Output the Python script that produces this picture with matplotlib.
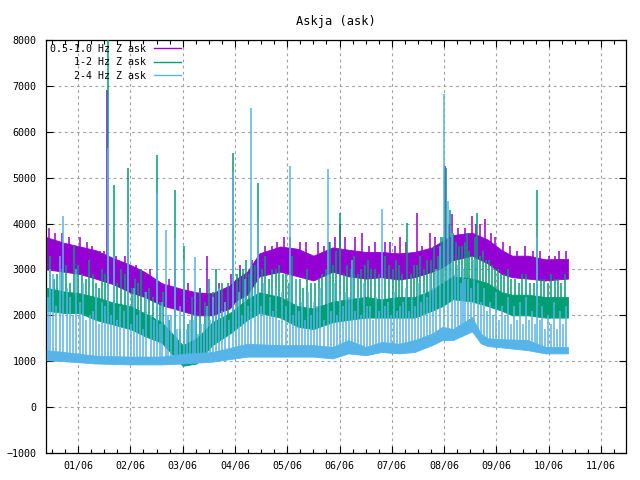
import numpy as np
import matplotlib
matplotlib.use('Agg')
import matplotlib.pyplot as plt
from matplotlib.ticker import MultipleLocator

plt.rcParams['font.family'] = 'DejaVu Sans Mono'
plt.rcParams['font.size'] = 7.2

# --- colours (gnuplot defaults) ---
PURPLE, GREEN, BLUE = '#9400d3', '#009e73', '#56b4e9'

# x axis: days, one tick label every 30 days
TICK_DAYS = [0, 30, 60, 90, 120, 150, 180, 210, 240, 270, 300]
TICK_LABELS = ['01/06', '02/06', '03/06', '04/06', '05/06', '06/06',
               '07/06', '08/06', '09/06', '10/06', '11/06']

# 0.5-1.0 Hz: noise envelope, big spikes, small bursts
P_DAY = [-18, -8, 1, 10, 20, 30, 38, 48, 59, 68, 77, 87, 91, 97, 104, 116, 126,
         135, 146, 155, 165, 174, 184, 193, 203, 209, 215, 226, 235, 243, 249, 258, 268, 281]
P_LO = [3000, 2950, 2900, 2800, 2680, 2500, 2400, 2220, 2100, 2000, 2000, 2150, 2330, 2450,
        2850, 2950, 2850, 2760, 2950, 2850, 2800, 2830, 2780, 2830, 2950, 3050, 3200, 3300,
        3130, 2900, 2830, 2800, 2760, 2800]
P_HI = [3700, 3580, 3500, 3420, 3250, 3100, 2950, 2700, 2580, 2500, 2480, 2650, 2800, 2950,
        3350, 3500, 3450, 3300, 3480, 3430, 3380, 3380, 3350, 3380, 3480, 3620, 3750, 3800,
        3650, 3420, 3300, 3300, 3220, 3230]
P_SPK_DAY = [-16.6, -9.2, 1.1, 12.6, 16.6, 27.0, 41.3, 55.6, 74.0, 92.9, 107.3, 121.6, 127.3,
             137.7, 147.4, 150.3, 158.9, 162.9, 170.4, 179.0, 184.7, 194.4, 201.9, 210.5,
             214.5, 222.0, 226.0, 230.6, 233.5, 239.2, 247.8, 256.4, 265.0, 273.6, 279.9]
P_SPK_VAL = [3900, 3800, 3700, 3400, 6920, 3300, 3000, 3000, 3300, 3100, 3500, 3700, 3600,
             3600, 3700, 3990, 3700, 3800, 3600, 3600, 3700, 4240, 3800, 5250,
             4200, 3900, 4170, 4000, 4100, 3700, 3500, 3500, 3400, 3300, 3400]
P_BURST_DAY = [-13.0, -5.0, 5.0, 8.0, 15.0, 22.0, 33.0, 45.0, 52.0, 63.0, 70.0, 81.0, 88.0,
               100.0, 111.0, 114.0, 118.0, 131.0, 141.0, 144.0, 153.0, 167.0, 176.0, 182.0,
               188.0, 197.0, 205.0, 212.5, 218.0, 228.0, 237.0, 244.0, 252.0, 261.0, 270.0, 276.0]
P_BURST_VAL = [3800, 3700, 3600, 3500, 3400, 3300, 3100, 2900, 2800, 2700, 2600, 2700, 2900,
               3200, 3500, 3600, 3700, 3600, 3500, 3600, 3700, 3500, 3600, 3500,
               3600, 3500, 3700, 4000, 3900, 4000, 3800, 3600, 3400, 3400, 3300, 3400]

# 1-2 Hz
G_DAY = [-18, -8, 1, 10, 20, 30, 38, 48, 54, 60, 68, 77, 87, 97, 104, 116, 126, 135, 146,
         155, 165, 174, 184, 193, 203, 209, 215, 226, 235, 243, 249, 258, 268, 281]
G_LO = [2100, 2050, 2050, 1900, 1800, 1700, 1550, 1400, 1150, 900, 950, 1350, 1600, 1900,
        2050, 1950, 1750, 1700, 1850, 1900, 1950, 1950, 1950, 1950, 2100, 2200, 2350, 2300,
        2200, 2100, 2000, 2000, 1950, 1950]
G_HI = [2600, 2520, 2480, 2400, 2280, 2200, 2050, 1850, 1600, 1350, 1500, 1850, 2050, 2350,
        2500, 2400, 2200, 2150, 2300, 2350, 2400, 2350, 2400, 2400, 2550, 2700, 2850, 2800,
        2700, 2500, 2450, 2450, 2400, 2400]
G_SPK_DAY = [-16.1, -12.0, -6.9, -2.3, 2.3, 6.3, 10.3, 13.8, 17.2, 20.6, 24.7, 28.7, 32.7,
             36.1, 40.7, 45.1, 48.8, 55.6, 60.8, 65.4, 70.0, 75.1, 79.2, 82.6, 88.9, 92.9,
             96.4, 99.8, 103.2, 107.3, 111.3, 115.3, 119.3, 122.8, 127.3, 131.4, 136.0,
             140.0, 144.5, 148.0, 150.3, 154.3, 158.3, 162.3, 166.3, 170.4, 176.1, 178.4,
             182.4, 185.8, 188.7, 192.7, 196.2, 200.2, 204.2, 208.2, 211.0, 213.4, 216.8,
             220.3, 223.1, 226.0, 228.9, 232.3, 235.8, 239.2, 242.6, 246.6, 250.7, 254.7,
             259.3, 263.3, 267.3, 271.3, 275.3, 279.3]
G_SPK_VAL = [3300, 2900, 3100, 3500, 2900, 3200, 2700, 3000, 8200, 4830, 3000, 5200, 2800,
             3000, 2600, 5500, 2500, 4740, 3520, 2400, 2600, 2800, 3000, 2700, 5545, 3000,
             3200, 3100, 4890, 3300, 3000, 3100, 2900, 3300, 2800, 3000, 2700,
             2900, 3600, 3400, 4240, 3100, 3300, 3000, 3200, 3000, 3300, 3100,
             3200, 2900, 4020, 3100, 3300, 3200, 3500, 3700, 5200, 4300, 3600,
             3500, 3800, 3300, 4240, 3400, 3200, 3000, 2900, 3000, 2800, 2900,
             2700, 4730, 2800, 2900, 2800, 2900]
G_BURST_DAY = [-14.0, -9.5, -4.6, 0.0, 4.3, 8.3, 12.0, 15.5,
               22.6, 26.7, 30.7, 34.4, 38.4, 42.9, 47.0,
               52.2, 58.2, 63.1, 67.7, 72.6, 77.2, 80.9,
               86.0, 91.0, 94.6, 98.1, 101.5, 105.3, 109.3, 113.3, 117.3, 121.0, 125.0,
               129.3, 133.7, 138.0, 142.2, 146.2, 152.3, 156.3, 160.3, 164.3, 168.3, 172.4,
               180.4, 184.1, 190.7, 194.5, 198.2, 202.2, 206.2, 209.6,
               215.1, 218.5, 221.7, 224.5, 227.5, 230.6, 234.0, 237.5, 240.9, 244.6,
               248.6, 252.7, 256.9, 261.3, 265.3, 269.3, 273.3, 277.3]
G_BURST_VAL = [2800, 3000, 2700, 3100, 2800, 2900, 2600, 2900,
               2700, 2900, 2600, 2700, 2500, 2400, 2300,
               1900, 1700, 1800, 2000, 2300, 2500, 2600,
               2700, 2900, 3000, 2900, 3100, 3000, 2800, 3000, 2900, 2700, 2800,
               2600, 2700, 2800, 3000, 3100, 2900, 3000, 2900, 3100, 3000, 2900,
               3000, 3100, 2900, 3100, 3000, 3200, 3300, 3700,
               3800, 3500, 3600, 3400, 3700, 3300, 3200, 3100, 3000, 2900,
               2800, 2700, 2900, 2700, 2800, 2700, 2800, 2700]

# 2-4 Hz
B_DAY = [-18, -8, 10, 30, 48, 60, 77, 97, 116, 135, 146, 155, 165, 174, 184, 193, 203, 209,
         215, 226, 231, 235, 243, 258, 268, 281]
B_LO = [1020, 1000, 950, 930, 930, 950, 990, 1100, 1100, 1100, 1060, 1170, 1130, 1200, 1170,
        1200, 1350, 1460, 1460, 1650, 1390, 1330, 1300, 1240, 1170, 1170]
B_HI = [1240, 1200, 1120, 1100, 1100, 1160, 1200, 1380, 1350, 1350, 1310, 1460, 1310, 1420,
        1380, 1460, 1600, 1750, 1700, 1960, 1600, 1500, 1480, 1460, 1310, 1310]
B_SPK_DAY = [-16.1, -14.3, -10.3, -8.6, -4.6, -1.1, 2.9, 6.9, 10.3, 13.8, 17.2, 20.6, 24.1,
             28.7, 32.1, 35.6, 39.0, 41.9, 45.1, 48.2, 50.3, 53.3, 55.6, 58.5, 60.8, 64.2,
             67.1, 70.6, 74.0, 77.4, 80.9, 84.3, 88.9, 92.3, 95.8, 99.1, 101.5, 103.2, 106.7,
             110.1, 113.6, 117.0, 121.6, 125.0, 128.5, 131.9, 135.4, 138.8, 143.4, 146.8,
             150.3, 153.7, 157.2, 160.6, 164.0, 167.5, 170.9, 174.4, 177.8, 181.3, 184.7,
             188.1, 191.6, 195.0, 198.5, 201.9, 205.3, 207.6, 209.9, 212.2, 214.5, 218.0,
             220.8, 223.7, 227.1, 229.4, 232.9, 236.3, 239.8, 243.2, 246.6, 250.1, 253.5,
             257.0, 260.4, 263.3, 266.1, 269.6, 273.0, 276.5, 279.9]
B_SPK_VAL = [3000, 2900, 3300, 4170, 2400, 3000, 2700, 2000, 2600, 2300, 5650, 3290, 2200,
             4030, 2600, 2100, 2500, 2000, 4660, 2300, 3870, 2000, 3680, 2200, 3200, 1900,
             3280, 1800, 2200, 2400, 2600, 2300, 5120, 2500, 2800, 6525, 2600, 4030, 2700,
             2400, 2600, 2500, 5260, 2800, 2300, 2500, 2300, 2600, 5190, 2700,
             2400, 2500, 3200, 2400, 2700, 2200, 2400, 4310, 2300, 2500, 2200,
             2600, 2400, 2700, 2500, 2900, 3000, 3500, 6820, 4500, 3800, 3100,
             3000, 2800, 3200, 2700, 2600, 2300, 2500, 2200, 2400, 2200, 2300,
             2400, 2100, 3700, 2200, 2000, 2300, 2100, 2200]
B_BURST_DAY = [-17.0, -12.5, -6.5, -3.0, 1.0, 4.8, 8.5, 12.0, 15.5, 19.0, 22.3, 26.5, 30.5,
               34.0, 37.2, 43.5, 46.8, 51.8, 57.0,
               62.5, 65.8, 69.0, 72.3, 75.8, 79.2, 82.6, 86.5, 90.5, 94.0, 97.4,
               105.0, 108.4, 112.0, 115.3, 119.3, 123.3, 126.7, 130.2, 133.6, 137.0, 141.0,
               145.0, 148.5, 152.0, 155.5, 159.0, 162.3, 165.8, 169.2, 172.6, 176.1, 179.5,
               183.0, 186.4, 189.8, 193.3, 196.7, 200.2, 203.6,
               216.2, 219.4, 222.2, 225.4, 231.1, 234.6, 238.0, 241.5, 244.9, 248.3, 251.8,
               255.2, 258.7, 262.0, 264.7, 267.8, 271.3, 274.7, 278.2]
B_BURST_VAL = [2400, 2200, 2600, 2000, 2300, 1900, 2100, 1800, 2200, 2000, 1900, 2100, 1800,
               2000, 1700, 1900, 1800, 2000, 1700,
               1700, 1900, 1600, 1800, 1900, 2000, 2100, 1900, 2200, 2000, 2200,
               2200, 2000, 2100, 1900, 2200, 2000, 2100, 1900, 2000, 2200, 1900,
               2100, 2000, 2200, 2400, 2100, 2000, 2200, 1900, 2100, 2200, 2000,
               2100, 2300, 2100, 2200, 2300, 2400, 2600,
               2900, 2700, 2800, 2600, 2300, 2100, 2000, 1900, 2000, 1800, 1900,
               1800, 1900, 1800, 1900, 1700, 1800, 1700, 1800]

SERIES = [
    ('0.5-1.0 Hz Z ask', PURPLE, P_DAY, P_LO, P_HI,
     P_SPK_DAY + P_BURST_DAY, P_SPK_VAL + P_BURST_VAL),
    ('    1-2 Hz Z ask', GREEN, G_DAY, G_LO, G_HI,
     G_SPK_DAY + G_BURST_DAY, G_SPK_VAL + G_BURST_VAL),
    ('    2-4 Hz Z ask', BLUE, B_DAY, B_LO, B_HI,
     B_SPK_DAY + B_BURST_DAY, B_SPK_VAL + B_BURST_VAL),
]

fig = plt.figure(figsize=(6.4, 4.8), dpi=100)
ax = fig.add_axes([0.0719, 0.0563, 0.9062, 0.8604])

handles = []
for i, (label, color, day, lo, hi, sday, sval) in enumerate(SERIES):
    z = 2 + i
    ax.fill_between(day, lo, hi, color=color, lw=0.6, edgecolor=color, zorder=z)
    # spikes rise out of the noise band
    base = np.interp(sday, day, lo)
    ax.vlines(sday, base, sval, color=color, lw=1.1, zorder=z)
    h, = ax.plot([], [], color=color, lw=1.0, label=label)
    handles.append(h)

ax.set_xlim(-18.4, 314.3)
ax.set_ylim(-1000, 8000)
ax.set_xticks(TICK_DAYS)
ax.set_xticklabels(TICK_LABELS)
ax.xaxis.set_minor_locator(MultipleLocator(7.5))
ax.yaxis.set_major_locator(MultipleLocator(1000))

ax.tick_params(which='both', direction='in', top=True, right=True, width=0.8)
ax.tick_params(which='major', length=5)
ax.tick_params(which='minor', length=3)
ax.tick_params(axis='x', pad=6)
ax.tick_params(axis='y', pad=7)
for s in ax.spines.values():
    s.set_linewidth(0.9)

ax.set_axisbelow(True)
ax.grid(True, which='major', color='#a0a0a0', linestyle=(0, (2.5, 3)), lw=0.8)

ax.set_title('Askja (ask)', pad=11)

leg = ax.legend(handles=handles, loc='upper left', markerfirst=False, frameon=False,
                handlelength=2.7, handletextpad=0.8, labelspacing=0.35,
                borderaxespad=0.2, borderpad=0.2)
leg.set_zorder(10)

fig.savefig('out.png', dpi=100)
